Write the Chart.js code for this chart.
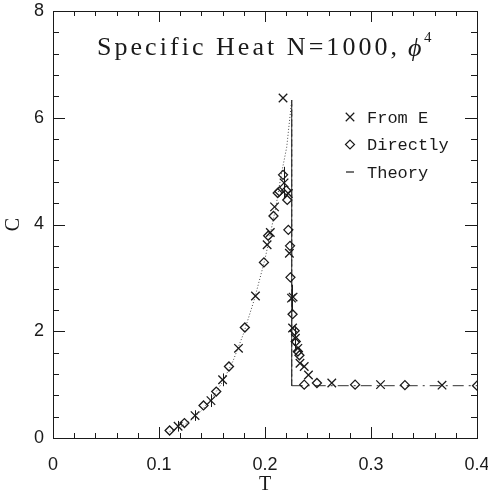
<!DOCTYPE html>
<html>
<head>
<meta charset="utf-8">
<script src="https://cdn.jsdelivr.net/npm/chart.js@4.4.1/dist/chart.umd.min.js"></script>
<style>
  html, body { margin: 0; padding: 0; background: #fff; }
</style>
</head>
<body>
<canvas id="heatChart" width="488" height="495"></canvas>
<script>
// values
const fromE_T = [0.118, 0.134, 0.149, 0.160, 0.175, 0.191, 0.202, 0.205, 0.209, 0.218, 0.222, 0.217,
                 0.223, 0.225, 0.2265, 0.226, 0.2287, 0.231, 0.233, 0.237, 0.241, 0.263, 0.309, 0.367];
const fromE_C = [0.22, 0.42, 0.70, 1.09, 1.68, 2.66, 3.62, 3.85, 4.33, 4.78, 4.58, 6.37,
                 3.46, 2.62, 2.64, 2.06, 1.87, 1.68, 1.40, 1.34, 1.18, 1.03, 1.00, 0.99];
const fromE_err = [0.10, 0.10, 0.12, 0.12, 0, 0, 0, 0, 0, 0.30, 0, 0,
                   0, 0.25, 0, 0, 0.20, 0, 0, 0, 0, 0, 0, 0];

const direct_T = [0.110, 0.124, 0.142, 0.154, 0.166, 0.181, 0.199, 0.203, 0.208, 0.212, 0.2135, 0.217,
                  0.220, 0.221, 0.222, 0.2236, 0.224, 0.226, 0.228, 0.229, 0.231, 0.2325, 0.237,
                  0.249, 0.285, 0.332, 0.400];
const direct_C = [0.14, 0.28, 0.61, 0.87, 1.34, 2.07, 3.29, 3.79, 4.16, 4.59, 4.62, 4.93,
                  4.64, 4.46, 3.90, 3.60, 3.01, 2.32, 2.01, 1.81, 1.62, 1.55, 1.00,
                  1.03, 1.00, 0.99, 0.98];

// theory: rising branch below Tc, then the jump and the flat part above it
const theoryLow_T = [0.11, 0.12, 0.13, 0.14, 0.15, 0.16, 0.17, 0.18, 0.19, 0.20, 0.21, 0.215, 0.2205, 0.2252];
const theoryLow_C = [0.12, 0.20, 0.33, 0.51, 0.75, 1.05, 1.45, 1.97, 2.60, 3.35, 4.30, 4.90, 5.45, 6.33];
const theoryHigh_T = [0.2252, 0.2252, 0.40];
const theoryHigh_C = [6.33, 0.98, 0.98];

const xTicks = [0, 0.1, 0.2, 0.3, 0.4];
const yTicks = [0, 2, 4, 6, 8];

const ink = '#1a1a1a';

function pts(xs, ys) { return xs.map((x, i) => ({ x: x, y: ys[i] })); }

// frame with inward ticks on all four sides, plus the error bars
const frameTicks = {
    id: 'frameTicks',
    afterDatasetsDraw(chart) {
        const { ctx, chartArea: a, scales: { x, y } } = chart;
        ctx.save();
        ctx.strokeStyle = ink;
        ctx.lineWidth = 1;
        ctx.strokeRect(a.left + 0.5, a.top + 0.5, a.right - a.left, a.bottom - a.top);
        ctx.beginPath();
        for (let i = 0; i <= 20; i++) {
            const px = Math.round(x.getPixelForValue(i * 0.02)) + 0.5;
            const len = i % 5 === 0 ? 11 : 5;
            ctx.moveTo(px, a.bottom); ctx.lineTo(px, a.bottom - len);
            ctx.moveTo(px, a.top); ctx.lineTo(px, a.top + len);
        }
        for (let i = 0; i <= 20; i++) {
            const py = Math.round(y.getPixelForValue(i * 0.4)) + 0.5;
            const len = i % 5 === 0 ? 12 : 6;
            ctx.moveTo(a.left, py); ctx.lineTo(a.left + len, py);
            ctx.moveTo(a.right, py); ctx.lineTo(a.right - len, py);
        }
        // error bars on the "From E" points
        fromE_T.forEach((t, i) => {
            if (!fromE_err[i]) return;
            const px = Math.round(x.getPixelForValue(t)) + 0.5;
            ctx.moveTo(px, y.getPixelForValue(fromE_C[i] - fromE_err[i]));
            ctx.lineTo(px, y.getPixelForValue(fromE_C[i] + fromE_err[i]));
        });
        ctx.stroke();
        ctx.restore();
    }
};

// title and legend inside the plot box
const insideText = {
    id: 'insideText',
    afterDraw(chart) {
        const { ctx, chartArea: a } = chart;
        ctx.save();
        ctx.fillStyle = ink;
        ctx.textBaseline = 'alphabetic';

        // title
        const title = 'Specific Heat N=1000,';
        ctx.font = '26px "Liberation Serif"';
        ctx.letterSpacing = '0px';
        const w0 = ctx.measureText(title).width;
        const sp = (300 - w0) / (title.length - 1);
        ctx.letterSpacing = sp.toFixed(2) + 'px';
        ctx.fillText(title, a.left + 44, a.top + 44);
        ctx.letterSpacing = '0px';
        ctx.font = 'italic 26px "Liberation Serif"';
        ctx.fillText('\u03d5', a.left + 355, a.top + 45);
        ctx.font = '15px "Liberation Serif"';
        ctx.fillText('4', a.left + 371, a.top + 31);

        // legend
        const rows = [
            { label: 'From E', style: 'crossRot', r: 6 },
            { label: 'Directly', style: 'rectRot', r: 4.5 },
            { label: 'Theory', style: 'dash', r: 0 }
        ];
        ctx.font = '17px "Liberation Mono"';
        ctx.textBaseline = 'middle';
        ctx.strokeStyle = ink;
        ctx.lineWidth = 1.2;
        rows.forEach((row, i) => {
            const cy = a.top + 106 + i * 27.5;
            const cx = a.left + 297;
            if (row.style === 'dash') {
                ctx.beginPath();
                ctx.moveTo(cx - 4, cy); ctx.lineTo(cx + 4, cy);
                ctx.stroke();
            } else {
                ctx.fillStyle = 'rgba(0,0,0,0)';
                Chart.helpers.drawPoint(ctx, { pointStyle: row.style, radius: row.r, borderWidth: 1.2 }, cx, cy);
                ctx.fillStyle = ink;
            }
            ctx.fillText(row.label, a.left + 314, cy + 1);
        });
        ctx.restore();
    }
};

const ctx = document.getElementById('heatChart');

new Chart(ctx, {
    type: 'scatter',
    data: {
        datasets: [
            {
                label: 'Theory',
                type: 'line',
                data: pts(theoryLow_T, theoryLow_C),
                borderColor: '#444',
                borderWidth: 1,
                borderDash: [1, 2],
                pointRadius: 0,
                fill: false,
                order: 4
            },
            {
                label: 'Theory (above Tc)',
                type: 'line',
                data: pts(theoryHigh_T, theoryHigh_C),
                borderColor: '#333',
                borderWidth: 1,
                pointRadius: 0,
                fill: false,
                order: 3,
                segment: {
                    borderDash: c => c.p0DataIndex === 0 ? [7, 3] : [11, 5, 2, 5]
                }
            },
            {
                label: 'From E',
                data: pts(fromE_T, fromE_C),
                pointStyle: 'crossRot',
                pointRadius: 6,
                borderColor: ink,
                borderWidth: 1.3,
                order: 1
            },
            {
                label: 'Directly',
                data: pts(direct_T, direct_C),
                pointStyle: 'rectRot',
                pointRadius: 4.5,
                borderColor: ink,
                backgroundColor: 'rgba(255,255,255,0)',
                borderWidth: 1.3,
                order: 2
            }
        ]
    },
    options: {
        responsive: false,
        animation: false,
        layout: { padding: { top: 11, right: 11, left: 0, bottom: 0 } },
        plugins: {
            legend: { display: false },
            tooltip: { enabled: false }
        },
        scales: {
            x: {
                type: 'linear',
                min: 0,
                max: 0.4,
                afterBuildTicks: s => { s.ticks = xTicks.map(v => ({ value: v })); },
                afterFit: s => { s.height = 57; s.paddingLeft = 0; s.paddingRight = 0; },
                grid: { display: false, drawTicks: false },
                border: { display: false },
                ticks: {
                    padding: 16,
                    color: ink,
                    font: { family: '"Liberation Sans"', size: 18 },
                    callback: v => v === 0 ? '0' : v.toFixed(1)
                },
                title: {
                    display: true,
                    text: 'T',
                    color: ink,
                    font: { family: '"Liberation Serif"', size: 20, lineHeight: 1 },
                    padding: { top: 0, bottom: 0 }
                }
            },
            y: {
                type: 'linear',
                min: 0,
                max: 8,
                afterBuildTicks: s => { s.ticks = yTicks.map(v => ({ value: v })); },
                afterFit: s => { s.width = 53; s.paddingTop = 0; s.paddingBottom = 0; },
                grid: { display: false, drawTicks: false },
                border: { display: false },
                ticks: {
                    padding: 9,
                    color: ink,
                    font: { family: '"Liberation Sans"', size: 18 }
                },
                title: {
                    display: true,
                    text: 'C',
                    color: ink,
                    font: { family: '"Liberation Serif"', size: 20, lineHeight: 1 },
                    padding: { top: 4, bottom: 0 }
                }
            }
        }
    },
    plugins: [frameTicks, insideText]
});
</script>
</body>
</html>
